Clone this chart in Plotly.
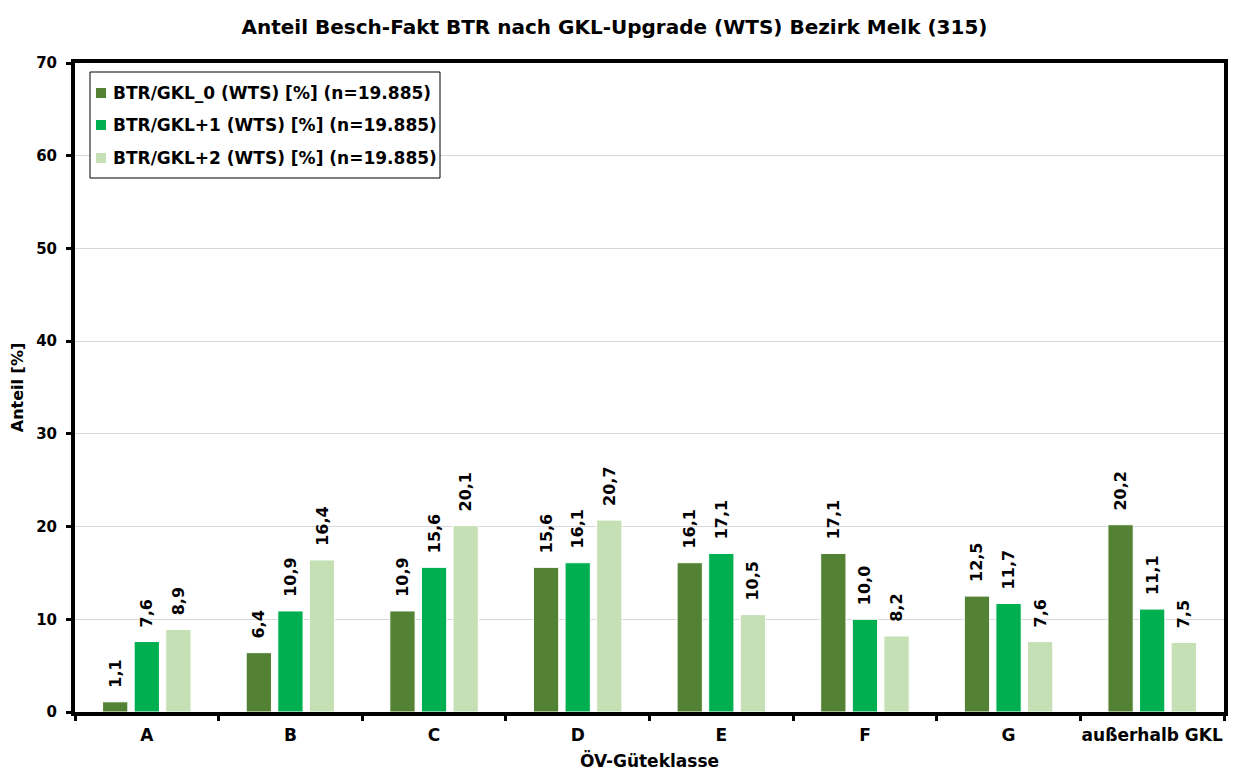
import plotly.graph_objects as go

categories = ["A", "B", "C", "D", "E", "F", "G", "außerhalb GKL"]
series_names = [
    "BTR/GKL_0 (WTS) [%] (n=19.885)",
    "BTR/GKL+1 (WTS) [%] (n=19.885)",
    "BTR/GKL+2 (WTS) [%] (n=19.885)",
]
gkl0 = [1.1, 6.4, 10.9, 15.6, 16.1, 17.1, 12.5, 20.2]
gkl1 = [7.6, 10.9, 15.6, 16.1, 17.1, 10.0, 11.7, 11.1]
gkl2 = [8.9, 16.4, 20.1, 20.7, 10.5, 8.2, 7.6, 7.5]
colors = ["#548235", "#00B050", "#C5E0B4"]

FONT = "DejaVu Sans, Liberation Sans, Arial, sans-serif"

# figure geometry (page has an 8px body margin)
FW, FH = 1228, 766
L, R, T, B = 67, 12, 55, 62
PW, PH = FW - L - R, FH - T - B
OFF = 8


def px_x(ax):  # absolute page x -> paper x
    return (ax - OFF - L) / PW


def px_y(ay):  # absolute page y -> paper y
    return (T + PH - (ay - OFF)) / PH


def fmt(v):
    return "\u00a0\u00a0" + f"{v:.1f}".replace(".", ",")

fig = go.Figure()
for name, vals, col in zip(series_names, [gkl0, gkl1, gkl2], colors):
    fig.add_trace(go.Bar(
        x=categories, y=vals, name=name,
        marker=dict(color=col, line=dict(color="white", width=1)),
        text=[fmt(v) for v in vals],
        textposition="outside", textangle=-90, constraintext="none",
        textfont=dict(family=FONT, size=16, color="black", weight="bold"),
        cliponaxis=False, showlegend=False,
    ))

# manual legend (box, swatches, labels)
shapes = [dict(type="rect", xref="paper", yref="paper",
               x0=px_x(90), x1=px_x(440), y0=px_y(72), y1=px_y(178),
               line=dict(color="black", width=1), fillcolor="white", layer="above")]
annotations = []
for name, col, cy in zip(series_names, colors, [93, 125, 158]):
    shapes.append(dict(type="rect", xref="paper", yref="paper",
                       x0=px_x(96), x1=px_x(106), y0=px_y(cy + 5), y1=px_y(cy - 5),
                       line=dict(width=0), fillcolor=col, layer="above"))
    annotations.append(dict(text=f"<b>{name}</b>", xref="paper", yref="paper",
                            x=px_x(111), y=px_y(cy), xanchor="left", yanchor="middle",
                            showarrow=False,
                            font=dict(family=FONT, size=17, color="black")))

fig.update_layout(
    width=FW, height=FH,
    paper_bgcolor="white", plot_bgcolor="white",
    margin=dict(l=L, r=R, t=T, b=B, autoexpand=False),
    barmode="group", bargap=0.34, bargroupgap=0.2,
    font=dict(family=FONT, size=17, color="black"),
    title=dict(text="<b>Anteil Besch-Fakt BTR nach GKL-Upgrade (WTS) Bezirk Melk (315)</b>",
               xref="container", x=606.5 / FW, xanchor="center",
               yref="container", y=1 - 19 / FH, yanchor="middle",
               font=dict(family=FONT, size=20, color="black")),
    shapes=shapes,
    annotations=annotations,
    showlegend=False,
)
fig.update_xaxes(
    type="category", tickson="boundaries", automargin=False, tickangle=0,
    showline=True, linecolor="black", linewidth=4, mirror=True,
    ticks="outside", ticklen=5, tickwidth=3, tickcolor="black",
    ticklabelstandoff=5,
    tickfont=dict(family=FONT, size=17, color="black", weight="bold"),
    title=dict(text="<b>ÖV-Güteklasse</b>", standoff=12,
               font=dict(family=FONT, size=17, color="black")),
)
fig.update_yaxes(
    range=[0, 70], dtick=10, automargin=False,
    showline=True, linecolor="black", linewidth=4, mirror=True,
    showgrid=True, gridcolor="#D9D9D9", gridwidth=1,
    ticks="outside", ticklen=5, tickwidth=3, tickcolor="black",
    ticklabelstandoff=6,
    tickfont=dict(family=FONT, size=15, color="black", weight="bold"),
    zeroline=False,
    title=dict(text="<b>Anteil [%]</b>", standoff=10,
               font=dict(family=FONT, size=16, color="black")),
)

fig.write_html("out.html")
